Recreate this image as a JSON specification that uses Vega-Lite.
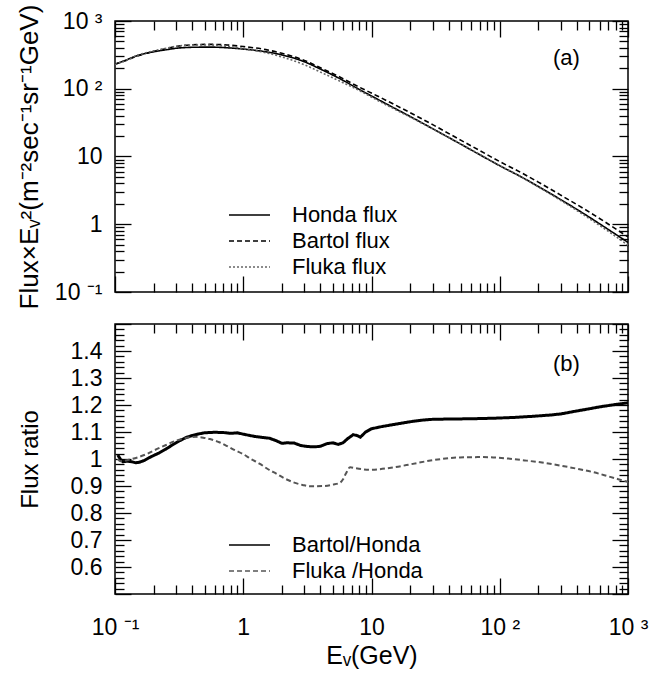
{
  "$schema": "https://vega.github.io/schema/vega-lite/v6.json",
  "background": "white",
  "padding": {"left": 15, "top": 3, "right": 5, "bottom": 5},
  "bounds": "flush",
  "spacing": 32,
  "datasets": {
    "flux": [
      {"E": 0.1, "flux": 229, "series": "Honda flux"}, {"E": 0.12, "flux": 262, "series": "Honda flux"}, {"E": 0.15, "flux": 309, "series": "Honda flux"}, {"E": 0.2, "flux": 351, "series": "Honda flux"}, {"E": 0.25, "flux": 376, "series": "Honda flux"}, {"E": 0.3, "flux": 396, "series": "Honda flux"}, {"E": 0.4, "flux": 409, "series": "Honda flux"}, {"E": 0.55, "flux": 412, "series": "Honda flux"}, {"E": 0.75, "flux": 403, "series": "Honda flux"}, {"E": 1, "flux": 385, "series": "Honda flux"}, {"E": 1.5, "flux": 351, "series": "Honda flux"}, {"E": 2, "flux": 316, "series": "Honda flux"}, {"E": 3, "flux": 250, "series": "Honda flux"}, {"E": 4, "flux": 195, "series": "Honda flux"}, {"E": 6, "flux": 133, "series": "Honda flux"}, {"E": 8, "flux": 98, "series": "Honda flux"}, {"E": 11, "flux": 71, "series": "Honda flux"}, {"E": 15, "flux": 52, "series": "Honda flux"}, {"E": 20, "flux": 39, "series": "Honda flux"}, {"E": 30, "flux": 25.7, "series": "Honda flux"}, {"E": 50, "flux": 15.1, "series": "Honda flux"}, {"E": 70, "flux": 10.6, "series": "Honda flux"}, {"E": 100, "flux": 7.3, "series": "Honda flux"}, {"E": 150, "flux": 4.9, "series": "Honda flux"}, {"E": 200, "flux": 3.6, "series": "Honda flux"}, {"E": 300, "flux": 2.3, "series": "Honda flux"}, {"E": 500, "flux": 1.27, "series": "Honda flux"}, {"E": 700, "flux": 0.84, "series": "Honda flux"}, {"E": 1000, "flux": 0.54, "series": "Honda flux"},
      {"E": 0.1, "flux": 231, "series": "Bartol flux"}, {"E": 0.12, "flux": 259, "series": "Bartol flux"}, {"E": 0.15, "flux": 305, "series": "Bartol flux"}, {"E": 0.2, "flux": 356, "series": "Bartol flux"}, {"E": 0.25, "flux": 390, "series": "Bartol flux"}, {"E": 0.3, "flux": 420, "series": "Bartol flux"}, {"E": 0.4, "flux": 445, "series": "Bartol flux"}, {"E": 0.55, "flux": 452, "series": "Bartol flux"}, {"E": 0.75, "flux": 442, "series": "Bartol flux"}, {"E": 1, "flux": 420, "series": "Bartol flux"}, {"E": 1.5, "flux": 378, "series": "Bartol flux"}, {"E": 2, "flux": 334, "series": "Bartol flux"}, {"E": 3, "flux": 262, "series": "Bartol flux"}, {"E": 4, "flux": 204, "series": "Bartol flux"}, {"E": 6, "flux": 141, "series": "Bartol flux"}, {"E": 8, "flux": 106, "series": "Bartol flux"}, {"E": 11, "flux": 79, "series": "Bartol flux"}, {"E": 15, "flux": 58.7, "series": "Bartol flux"}, {"E": 20, "flux": 44.4, "series": "Bartol flux"}, {"E": 30, "flux": 29.5, "series": "Bartol flux"}, {"E": 50, "flux": 17.3, "series": "Bartol flux"}, {"E": 70, "flux": 12.2, "series": "Bartol flux"}, {"E": 100, "flux": 8.4, "series": "Bartol flux"}, {"E": 150, "flux": 5.66, "series": "Bartol flux"}, {"E": 200, "flux": 4.18, "series": "Bartol flux"}, {"E": 300, "flux": 2.68, "series": "Bartol flux"}, {"E": 500, "flux": 1.51, "series": "Bartol flux"}, {"E": 700, "flux": 1.01, "series": "Bartol flux"}, {"E": 1000, "flux": 0.65, "series": "Bartol flux"},
      {"E": 0.1, "flux": 228, "series": "Fluka flux"}, {"E": 0.12, "flux": 260, "series": "Fluka flux"}, {"E": 0.15, "flux": 311, "series": "Fluka flux"}, {"E": 0.2, "flux": 362, "series": "Fluka flux"}, {"E": 0.25, "flux": 396, "series": "Fluka flux"}, {"E": 0.3, "flux": 423, "series": "Fluka flux"}, {"E": 0.4, "flux": 442, "series": "Fluka flux"}, {"E": 0.55, "flux": 442, "series": "Fluka flux"}, {"E": 0.75, "flux": 422, "series": "Fluka flux"}, {"E": 1, "flux": 392, "series": "Fluka flux"}, {"E": 1.5, "flux": 340, "series": "Fluka flux"}, {"E": 2, "flux": 295, "series": "Fluka flux"}, {"E": 3, "flux": 226, "series": "Fluka flux"}, {"E": 4, "flux": 176, "series": "Fluka flux"}, {"E": 6, "flux": 123, "series": "Fluka flux"}, {"E": 8, "flux": 94.6, "series": "Fluka flux"}, {"E": 11, "flux": 68.3, "series": "Fluka flux"}, {"E": 15, "flux": 50.4, "series": "Fluka flux"}, {"E": 20, "flux": 38.2, "series": "Fluka flux"}, {"E": 30, "flux": 25.5, "series": "Fluka flux"}, {"E": 50, "flux": 15.2, "series": "Fluka flux"}, {"E": 70, "flux": 10.7, "series": "Fluka flux"}, {"E": 100, "flux": 7.33, "series": "Fluka flux"}, {"E": 150, "flux": 4.88, "series": "Fluka flux"}, {"E": 200, "flux": 3.56, "series": "Fluka flux"}, {"E": 300, "flux": 2.24, "series": "Fluka flux"}, {"E": 500, "flux": 1.21, "series": "Fluka flux"}, {"E": 700, "flux": 0.79, "series": "Fluka flux"}, {"E": 1000, "flux": 0.49, "series": "Fluka flux"}
    ],
    "ratioB": [
      {"E": 0.105, "ratio": 1.015, "series": "Bartol/Honda"}, {"E": 0.11, "ratio": 1.0, "series": "Bartol/Honda"}, {"E": 0.115, "ratio": 0.99, "series": "Bartol/Honda"}, {"E": 0.125, "ratio": 0.992, "series": "Bartol/Honda"}, {"E": 0.135, "ratio": 0.99, "series": "Bartol/Honda"}, {"E": 0.145, "ratio": 0.986, "series": "Bartol/Honda"}, {"E": 0.155, "ratio": 0.988, "series": "Bartol/Honda"}, {"E": 0.17, "ratio": 0.995, "series": "Bartol/Honda"}, {"E": 0.185, "ratio": 1.005, "series": "Bartol/Honda"}, {"E": 0.2, "ratio": 1.013, "series": "Bartol/Honda"}, {"E": 0.22, "ratio": 1.022, "series": "Bartol/Honda"}, {"E": 0.25, "ratio": 1.037, "series": "Bartol/Honda"}, {"E": 0.28, "ratio": 1.052, "series": "Bartol/Honda"}, {"E": 0.32, "ratio": 1.068, "series": "Bartol/Honda"}, {"E": 0.36, "ratio": 1.08, "series": "Bartol/Honda"}, {"E": 0.4, "ratio": 1.087, "series": "Bartol/Honda"}, {"E": 0.45, "ratio": 1.093, "series": "Bartol/Honda"}, {"E": 0.5, "ratio": 1.097, "series": "Bartol/Honda"}, {"E": 0.6, "ratio": 1.099, "series": "Bartol/Honda"}, {"E": 0.7, "ratio": 1.098, "series": "Bartol/Honda"}, {"E": 0.8, "ratio": 1.095, "series": "Bartol/Honda"}, {"E": 0.9, "ratio": 1.097, "series": "Bartol/Honda"}, {"E": 1.0, "ratio": 1.092, "series": "Bartol/Honda"}, {"E": 1.1, "ratio": 1.088, "series": "Bartol/Honda"}, {"E": 1.25, "ratio": 1.083, "series": "Bartol/Honda"}, {"E": 1.4, "ratio": 1.08, "series": "Bartol/Honda"}, {"E": 1.6, "ratio": 1.077, "series": "Bartol/Honda"}, {"E": 1.8, "ratio": 1.068, "series": "Bartol/Honda"}, {"E": 2.0, "ratio": 1.058, "series": "Bartol/Honda"}, {"E": 2.2, "ratio": 1.06, "series": "Bartol/Honda"}, {"E": 2.5, "ratio": 1.059, "series": "Bartol/Honda"}, {"E": 2.8, "ratio": 1.05, "series": "Bartol/Honda"}, {"E": 3.2, "ratio": 1.046, "series": "Bartol/Honda"}, {"E": 3.6, "ratio": 1.045, "series": "Bartol/Honda"}, {"E": 4.0, "ratio": 1.047, "series": "Bartol/Honda"}, {"E": 4.5, "ratio": 1.057, "series": "Bartol/Honda"}, {"E": 5.0, "ratio": 1.06, "series": "Bartol/Honda"}, {"E": 5.5, "ratio": 1.054, "series": "Bartol/Honda"}, {"E": 6.0, "ratio": 1.06, "series": "Bartol/Honda"}, {"E": 6.5, "ratio": 1.075, "series": "Bartol/Honda"}, {"E": 7.2, "ratio": 1.09, "series": "Bartol/Honda"}, {"E": 7.7, "ratio": 1.087, "series": "Bartol/Honda"}, {"E": 8.2, "ratio": 1.081, "series": "Bartol/Honda"}, {"E": 9.0, "ratio": 1.1, "series": "Bartol/Honda"}, {"E": 10, "ratio": 1.112, "series": "Bartol/Honda"}, {"E": 12, "ratio": 1.12, "series": "Bartol/Honda"}, {"E": 15, "ratio": 1.128, "series": "Bartol/Honda"}, {"E": 20, "ratio": 1.138, "series": "Bartol/Honda"}, {"E": 25, "ratio": 1.144, "series": "Bartol/Honda"}, {"E": 30, "ratio": 1.147, "series": "Bartol/Honda"}, {"E": 40, "ratio": 1.148, "series": "Bartol/Honda"}, {"E": 60, "ratio": 1.149, "series": "Bartol/Honda"}, {"E": 90, "ratio": 1.151, "series": "Bartol/Honda"}, {"E": 130, "ratio": 1.154, "series": "Bartol/Honda"}, {"E": 180, "ratio": 1.158, "series": "Bartol/Honda"}, {"E": 250, "ratio": 1.163, "series": "Bartol/Honda"}, {"E": 300, "ratio": 1.167, "series": "Bartol/Honda"}, {"E": 400, "ratio": 1.178, "series": "Bartol/Honda"}, {"E": 500, "ratio": 1.186, "series": "Bartol/Honda"}, {"E": 600, "ratio": 1.193, "series": "Bartol/Honda"}, {"E": 800, "ratio": 1.202, "series": "Bartol/Honda"}, {"E": 1000, "ratio": 1.208, "series": "Bartol/Honda"}
    ],
    "ratioF": [
      {"E": 0.105, "ratio": 1.0, "series": "Fluka /Honda"}, {"E": 0.11, "ratio": 0.992, "series": "Fluka /Honda"}, {"E": 0.13, "ratio": 0.998, "series": "Fluka /Honda"}, {"E": 0.15, "ratio": 1.006, "series": "Fluka /Honda"}, {"E": 0.18, "ratio": 1.02, "series": "Fluka /Honda"}, {"E": 0.2, "ratio": 1.031, "series": "Fluka /Honda"}, {"E": 0.25, "ratio": 1.052, "series": "Fluka /Honda"}, {"E": 0.3, "ratio": 1.068, "series": "Fluka /Honda"}, {"E": 0.35, "ratio": 1.077, "series": "Fluka /Honda"}, {"E": 0.43, "ratio": 1.082, "series": "Fluka /Honda"}, {"E": 0.5, "ratio": 1.078, "series": "Fluka /Honda"}, {"E": 0.55, "ratio": 1.074, "series": "Fluka /Honda"}, {"E": 0.65, "ratio": 1.062, "series": "Fluka /Honda"}, {"E": 0.74, "ratio": 1.049, "series": "Fluka /Honda"}, {"E": 0.85, "ratio": 1.034, "series": "Fluka /Honda"}, {"E": 1.0, "ratio": 1.018, "series": "Fluka /Honda"}, {"E": 1.15, "ratio": 1.0, "series": "Fluka /Honda"}, {"E": 1.35, "ratio": 0.982, "series": "Fluka /Honda"}, {"E": 1.55, "ratio": 0.963, "series": "Fluka /Honda"}, {"E": 1.82, "ratio": 0.945, "series": "Fluka /Honda"}, {"E": 2.1, "ratio": 0.928, "series": "Fluka /Honda"}, {"E": 2.45, "ratio": 0.914, "series": "Fluka /Honda"}, {"E": 2.9, "ratio": 0.904, "series": "Fluka /Honda"}, {"E": 3.3, "ratio": 0.899, "series": "Fluka /Honda"}, {"E": 4.2, "ratio": 0.9, "series": "Fluka /Honda"}, {"E": 5.0, "ratio": 0.905, "series": "Fluka /Honda"}, {"E": 5.67, "ratio": 0.912, "series": "Fluka /Honda"}, {"E": 6.0, "ratio": 0.925, "series": "Fluka /Honda"}, {"E": 6.3, "ratio": 0.945, "series": "Fluka /Honda"}, {"E": 6.8, "ratio": 0.969, "series": "Fluka /Honda"}, {"E": 7.5, "ratio": 0.966, "series": "Fluka /Honda"}, {"E": 9.7, "ratio": 0.96, "series": "Fluka /Honda"}, {"E": 14.8, "ratio": 0.969, "series": "Fluka /Honda"}, {"E": 20, "ratio": 0.98, "series": "Fluka /Honda"}, {"E": 27, "ratio": 0.992, "series": "Fluka /Honda"}, {"E": 35, "ratio": 1.0, "series": "Fluka /Honda"}, {"E": 49, "ratio": 1.006, "series": "Fluka /Honda"}, {"E": 70, "ratio": 1.007, "series": "Fluka /Honda"}, {"E": 89, "ratio": 1.006, "series": "Fluka /Honda"}, {"E": 120, "ratio": 1.001, "series": "Fluka /Honda"}, {"E": 162, "ratio": 0.994, "series": "Fluka /Honda"}, {"E": 220, "ratio": 0.986, "series": "Fluka /Honda"}, {"E": 295, "ratio": 0.976, "series": "Fluka /Honda"}, {"E": 400, "ratio": 0.964, "series": "Fluka /Honda"}, {"E": 537, "ratio": 0.951, "series": "Fluka /Honda"}, {"E": 700, "ratio": 0.936, "series": "Fluka /Honda"}, {"E": 950, "ratio": 0.918, "series": "Fluka /Honda"}, {"E": 1000, "ratio": 0.915, "series": "Fluka /Honda"}
    ]
  },
  "config": {
    "font": "Liberation Sans",
    "view": {"stroke": "#000", "strokeWidth": 1.5},
    "axis": {"domain": false, "grid": false, "ticks": true, "zindex": 1, "tickWidth": 1.3, "labelFont": "Liberation Sans", "labelFontSize": 23, "labelColor": "#000", "labelFlush": false, "labelOverlap": false, "titleFont": "Liberation Sans", "titleFontSize": 23, "titleFontWeight": "normal", "titleColor": "#000"},
    "text": {"font": "Liberation Sans", "fontSize": 22, "color": "#000"}
  },
  "resolve": {"scale": {"color": "independent", "strokeDash": "independent"}, "legend": {"color": "independent", "strokeDash": "independent"}},
  "vconcat": [
    {
      "width": 513,
      "height": 271,
      "resolve": {"axis": {"x": "independent", "y": "independent"}},
      "layer": [
        {
          "data": {"name": "flux"},
          "mark": {"type": "line", "strokeWidth": 1.6, "interpolate": "monotone", "clip": true},
          "encoding": {
            "x": {"field": "E", "type": "quantitative", "scale": {"type": "log", "domain": [0.1, 1000], "nice": false},
              "axis": {"orient": "bottom", "title": null, "labels": false, "values": [0.1, 1, 10, 100, 1000], "tickSize": -16, "tickColor": "black"}},
            "y": {"field": "flux", "type": "quantitative", "scale": {"type": "log", "domain": [0.1, 1000], "nice": false},
              "axis": {"orient": "left", "title": "Flux×Eᵥ²(m⁻²sec⁻¹sr⁻¹GeV)", "titleFontSize": 26, "titleX": -73, "labelPadding": 29, "tickSize": -16, "tickColor": "black",
                "values": [0.1, 1, 10, 100, 1000],
                "labelExpr": "datum.value < 0.5 ? '10 ⁻¹' : datum.value < 5 ? '1' : datum.value < 50 ? '10' : datum.value < 500 ? '10 ²' : '10 ³'"}},
            "strokeDash": {"field": "series", "type": "nominal", "scale": {"domain": ["Honda flux", "Bartol flux", "Fluka flux"], "range": [[1, 0], [5, 3], [2, 2]]},
              "legend": {"title": null, "orient": "none", "legendX": 113, "legendY": 181, "symbolType": "stroke", "symbolSize": 1681, "symbolStrokeWidth": 1.5, "labelFontSize": 22, "labelFont": "Liberation Sans", "labelColor": "#000", "labelOffset": 21, "clipHeight": 26, "rowPadding": 0, "padding": 0}},
            "color": {"field": "series", "type": "nominal", "scale": {"domain": ["Honda flux", "Bartol flux", "Fluka flux"], "range": ["#000000", "#000000", "#666666"]},
              "legend": {"title": null, "orient": "none", "legendX": 113, "legendY": 181, "symbolType": "stroke", "symbolSize": 1681, "symbolStrokeWidth": 1.5, "labelFontSize": 22, "labelFont": "Liberation Sans", "labelColor": "#000", "labelOffset": 21, "clipHeight": 26, "rowPadding": 0, "padding": 0}}
          }
        },
        {
          "data": {"values": [{"E": 331, "flux": 280, "label": "(a)"}]},
          "mark": {"type": "text", "fontSize": 22},
          "encoding": {
            "x": {"field": "E", "type": "quantitative", "scale": {"type": "log", "domain": [0.1, 1000], "nice": false},
              "axis": {"orient": "top", "title": null, "labels": false, "values": [0.1, 1, 10, 100, 1000], "tickSize": -16, "tickColor": "black"}},
            "y": {"field": "flux", "type": "quantitative", "scale": {"type": "log", "domain": [0.1, 1000], "nice": false},
              "axis": {"orient": "right", "title": null, "labels": false, "values": [0.1, 1, 10, 100, 1000], "tickSize": -16, "tickColor": "black"}},
            "text": {"field": "label"}
          }
        },
        {
          "data": {"values": [{"E": 1, "flux": 1, "label": ""}]},
          "mark": {"type": "text"},
          "encoding": {
            "x": {"field": "E", "type": "quantitative", "scale": {"type": "log", "domain": [0.1, 1000], "nice": false},
              "axis": {"orient": "bottom", "title": null, "labels": false, "tickSize": -9, "tickColor": "black", "values": [0.2,0.3,0.4,0.5,0.6,0.7,0.8,0.9,2,3,4,5,6,7,8,9,20,30,40,50,60,70,80,90,200,300,400,500,600,700,800,900]}},
            "y": {"field": "flux", "type": "quantitative", "scale": {"type": "log", "domain": [0.1, 1000], "nice": false},
              "axis": {"orient": "left", "title": null, "labels": false, "tickSize": -9, "tickColor": "black", "values": [0.2,0.3,0.4,0.5,0.6,0.7,0.8,0.9,2,3,4,5,6,7,8,9,20,30,40,50,60,70,80,90,200,300,400,500,600,700,800,900]}},
            "text": {"field": "label"}
          }
        },
        {
          "data": {"values": [{"E": 1, "flux": 1, "label": ""}]},
          "mark": {"type": "text"},
          "encoding": {
            "x": {"field": "E", "type": "quantitative", "scale": {"type": "log", "domain": [0.1, 1000], "nice": false},
              "axis": {"orient": "top", "title": null, "labels": false, "tickSize": -9, "tickColor": "black", "values": [0.2,0.3,0.4,0.5,0.6,0.7,0.8,0.9,2,3,4,5,6,7,8,9,20,30,40,50,60,70,80,90,200,300,400,500,600,700,800,900]}},
            "y": {"field": "flux", "type": "quantitative", "scale": {"type": "log", "domain": [0.1, 1000], "nice": false},
              "axis": {"orient": "right", "title": null, "labels": false, "tickSize": -9, "tickColor": "black", "values": [0.2,0.3,0.4,0.5,0.6,0.7,0.8,0.9,2,3,4,5,6,7,8,9,20,30,40,50,60,70,80,90,200,300,400,500,600,700,800,900]}},
            "text": {"field": "label"}
          }
        }
      ]
    },
    {
      "width": 513,
      "height": 270,
      "resolve": {"axis": {"x": "independent", "y": "independent"}},
      "layer": [
        {
          "data": {"name": "ratioB"},
          "mark": {"type": "line", "strokeWidth": 3, "clip": true},
          "encoding": {
            "x": {"field": "E", "type": "quantitative", "scale": {"type": "log", "domain": [0.1, 1000], "nice": false},
              "axis": {"orient": "bottom", "title": "Eᵥ(GeV)", "titleFontSize": 25, "titlePadding": 4, "labelPadding": 38, "tickSize": -16, "tickColor": "black",
                "values": [0.1, 1, 10, 100, 1000],
                "labelExpr": "datum.value < 0.5 ? '10 ⁻¹' : datum.value < 5 ? '1' : datum.value < 50 ? '10' : datum.value < 500 ? '10 ²' : '10 ³'"}},
            "y": {"field": "ratio", "type": "quantitative", "scale": {"domain": [0.5, 1.5], "nice": false, "zero": false},
              "axis": {"orient": "left", "title": "Flux ratio", "titleFontSize": 24, "titleX": -73, "labelPadding": 29, "tickSize": -16, "tickColor": "black",
                "values": [0.5, 0.6, 0.7, 0.8, 0.9, 1, 1.1, 1.2, 1.3, 1.4, 1.5],
                "labelExpr": "(datum.value > 0.55 && datum.value < 1.45) ? format(datum.value, '.1~f') : ''"}},
            "strokeDash": {"field": "series", "type": "nominal", "scale": {"domain": ["Bartol/Honda", "Fluka /Honda"], "range": [[1, 0], [5, 3]]},
              "legend": {"title": null, "orient": "none", "legendX": 113, "legendY": 208, "symbolType": "stroke", "symbolSize": 1681, "symbolStrokeWidth": 1.5, "labelFontSize": 22, "labelFont": "Liberation Sans", "labelColor": "#000", "labelOffset": 21, "clipHeight": 26, "rowPadding": 0, "padding": 0}},
            "color": {"field": "series", "type": "nominal", "scale": {"domain": ["Bartol/Honda", "Fluka /Honda"], "range": ["#000000", "#555555"]},
              "legend": {"title": null, "orient": "none", "legendX": 113, "legendY": 208, "symbolType": "stroke", "symbolSize": 1681, "symbolStrokeWidth": 1.5, "labelFontSize": 22, "labelFont": "Liberation Sans", "labelColor": "#000", "labelOffset": 21, "clipHeight": 26, "rowPadding": 0, "padding": 0}}
          }
        },
        {
          "data": {"name": "ratioF"},
          "mark": {"type": "line", "strokeWidth": 2, "clip": true, "interpolate": "monotone"},
          "encoding": {
            "x": {"field": "E", "type": "quantitative", "scale": {"type": "log", "domain": [0.1, 1000], "nice": false}, "axis": null},
            "y": {"field": "ratio", "type": "quantitative", "scale": {"domain": [0.5, 1.5], "nice": false, "zero": false}, "axis": null},
            "strokeDash": {"field": "series", "type": "nominal", "scale": {"domain": ["Bartol/Honda", "Fluka /Honda"], "range": [[1, 0], [5, 3]]}},
            "color": {"field": "series", "type": "nominal", "scale": {"domain": ["Bartol/Honda", "Fluka /Honda"], "range": ["#000000", "#555555"]}}
          }
        },
        {
          "data": {"values": [{"E": 331, "ratio": 1.353, "label": "(b)"}]},
          "mark": {"type": "text", "fontSize": 22},
          "encoding": {
            "x": {"field": "E", "type": "quantitative", "scale": {"type": "log", "domain": [0.1, 1000], "nice": false},
              "axis": {"orient": "top", "title": null, "labels": false, "values": [0.1, 1, 10, 100, 1000], "tickSize": -16, "tickColor": "black"}},
            "y": {"field": "ratio", "type": "quantitative", "scale": {"domain": [0.5, 1.5], "nice": false, "zero": false},
              "axis": {"orient": "right", "title": null, "labels": false, "values": [0.5, 0.6, 0.7, 0.8, 0.9, 1, 1.1, 1.2, 1.3, 1.4, 1.5], "tickSize": -16, "tickColor": "black"}},
            "text": {"field": "label"}
          }
        },
        {
          "data": {"values": [{"E": 1, "ratio": 1, "label": ""}]},
          "mark": {"type": "text"},
          "encoding": {
            "x": {"field": "E", "type": "quantitative", "scale": {"type": "log", "domain": [0.1, 1000], "nice": false},
              "axis": {"orient": "bottom", "title": null, "labels": false, "tickSize": -9, "tickColor": "black", "values": [0.2,0.3,0.4,0.5,0.6,0.7,0.8,0.9,2,3,4,5,6,7,8,9,20,30,40,50,60,70,80,90,200,300,400,500,600,700,800,900]}},
            "y": {"field": "ratio", "type": "quantitative", "scale": {"domain": [0.5, 1.5], "nice": false, "zero": false},
              "axis": {"orient": "left", "title": null, "labels": false, "tickSize": -9, "tickColor": "black", "values": [0.52,0.54,0.56,0.58,0.62,0.64,0.66,0.68,0.72,0.74,0.76,0.78,0.82,0.84,0.86,0.88,0.92,0.94,0.96,0.98,1.02,1.04,1.06,1.08,1.12,1.14,1.16,1.18,1.22,1.24,1.26,1.28,1.32,1.34,1.36,1.38,1.42,1.44,1.46,1.48]}},
            "text": {"field": "label"}
          }
        },
        {
          "data": {"values": [{"E": 1, "ratio": 1, "label": ""}]},
          "mark": {"type": "text"},
          "encoding": {
            "x": {"field": "E", "type": "quantitative", "scale": {"type": "log", "domain": [0.1, 1000], "nice": false},
              "axis": {"orient": "top", "title": null, "labels": false, "tickSize": -9, "tickColor": "black", "values": [0.2,0.3,0.4,0.5,0.6,0.7,0.8,0.9,2,3,4,5,6,7,8,9,20,30,40,50,60,70,80,90,200,300,400,500,600,700,800,900]}},
            "y": {"field": "ratio", "type": "quantitative", "scale": {"domain": [0.5, 1.5], "nice": false, "zero": false},
              "axis": {"orient": "right", "title": null, "labels": false, "tickSize": -9, "tickColor": "black", "values": [0.52,0.54,0.56,0.58,0.62,0.64,0.66,0.68,0.72,0.74,0.76,0.78,0.82,0.84,0.86,0.88,0.92,0.94,0.96,0.98,1.02,1.04,1.06,1.08,1.12,1.14,1.16,1.18,1.22,1.24,1.26,1.28,1.32,1.34,1.36,1.38,1.42,1.44,1.46,1.48]}},
            "text": {"field": "label"}
          }
        }
      ]
    }
  ]
}
